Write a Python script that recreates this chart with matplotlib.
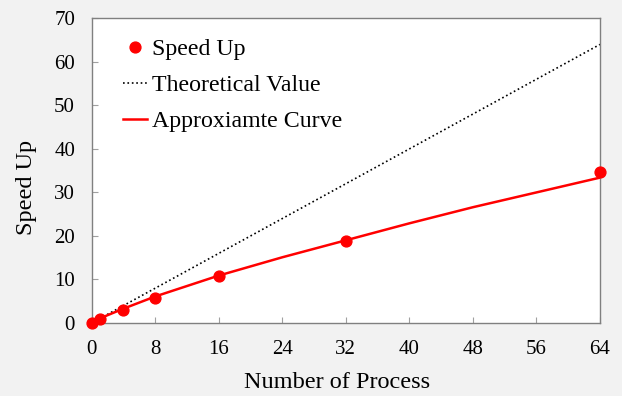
import matplotlib.pyplot as plt

plt.rcParams['font.family'] = ['Liberation Serif', 'DejaVu Serif']

# measured speed up
procs = [0, 1, 4, 8, 16, 32, 64]
speedup = [0, 0.9, 3.1, 5.8, 10.8, 18.8, 34.7]

# ideal line
theory_x = [0, 64]
theory_y = [0, 64]

# fitted curve
curve_x = [0, 1, 2, 4, 8, 16, 24, 32, 40, 48, 56, 64]
curve_y = [0, 1.0, 1.8, 3.3, 6.1, 10.9, 15.1, 19.0, 22.9, 26.6, 30.0, 33.4]

xticks = [0, 8, 16, 24, 32, 40, 48, 56, 64]
yticks = [0, 10, 20, 30, 40, 50, 60, 70]

fig = plt.figure(figsize=(6.22, 3.96), dpi=100, facecolor="#f2f2f2")
ax = fig.add_axes([0.1474, 0.1843, 0.8172, 0.7695])
ax.set_facecolor("white")

ax.plot(procs, speedup, "o", color="red", markersize=7.8, clip_on=False, zorder=4, label="Speed Up")
ax.plot(theory_x, theory_y, ":", color="black", linewidth=1.2, label="Theoretical Value")
ax.plot(curve_x, curve_y, "-", color="red", linewidth=1.8, label="Approxiamte Curve")

ax.set_xlim(0, 64)
ax.set_ylim(0, 70)
ax.set_xticks(xticks)
ax.set_yticks(yticks)
ax.tick_params(direction="in", length=4, color="#a0a0a0", labelsize=15, pad=12)
ax.tick_params(axis="x", top=False)
ax.tick_params(axis="y", right=False)
for s in ax.spines.values():
    s.set_color("#808080")
    s.set_linewidth(1.0)

ax.set_xlabel("Number of Process", fontsize=17.5)
ax.set_ylabel("Speed Up", fontsize=17.5)
ax.xaxis.set_label_coords(0.483, -0.16)
ax.yaxis.set_label_coords(-0.108, 0.446)

ax.legend(loc="upper left", bbox_to_anchor=(0.198, 0.903), bbox_transform=fig.transFigure,
          frameon=False, fontsize=17.2, handlelength=1.0, handletextpad=0.2,
          labelspacing=0.6, borderpad=0, borderaxespad=0)

fig.savefig("out.png", dpi=100, facecolor=fig.get_facecolor())
